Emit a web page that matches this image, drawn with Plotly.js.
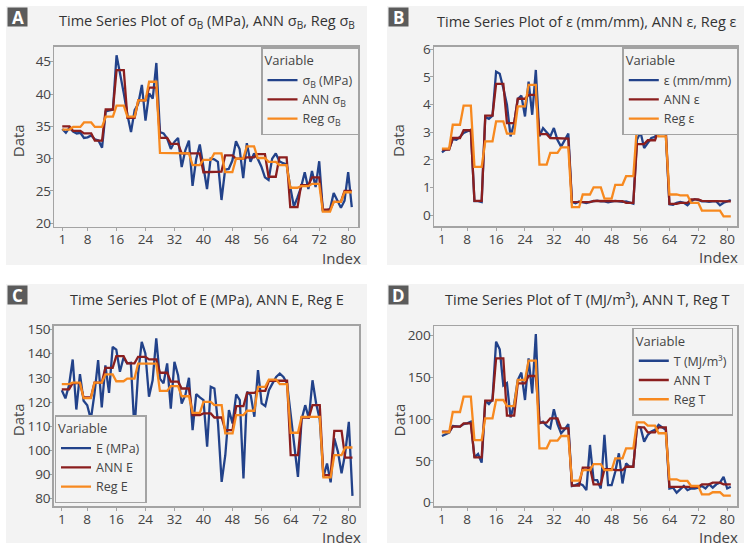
<!DOCTYPE html>
<html>
<head>
<meta charset="utf-8">
<script src="https://cdn.plot.ly/plotly-3.0.1.min.js"></script>
<style>html,body{margin:0;padding:0;background:#fff;}#chart{width:749px;height:552px;}</style>
</head>
<body>
<div id="chart"></div>
<script>
// ---------- DATA ----------
const indexTickVals = [1, 8, 16, 24, 32, 40, 48, 56, 64, 72, 80];

const sigmaB = [34.6,34.0,34.8,34.2,33.9,34.0,33.2,33.3,33.6,33.0,32.8,31.7,37.3,37.5,37.6,
  46.0,43.2,40.1,36.8,34.1,37.5,38.5,41.4,35.9,40.1,39.3,44.8,34.1,33.9,33.1,
  31.5,32.6,33.2,28.7,31.3,32.8,25.8,29.9,32.2,29.0,25.3,30.0,29.9,29.5,23.6,
  28.3,28.4,29.7,32.7,31.5,27.0,32.4,29.5,30.8,30.0,28.8,27.1,26.7,30.0,30.8,
  29.6,29.3,29.1,25.6,22.6,24.0,25.6,27.9,25.3,28.1,25.6,29.6,22.0,22.0,22.2,
  24.7,23.5,22.4,23.5,27.9,22.5];
const annSigmaB = [35.0,35.0,35.0,34.3,34.3,34.3,33.9,33.9,33.9,32.8,32.8,32.8,37.6,37.6,37.6,
  43.7,43.7,43.7,36.3,36.3,36.3,39.0,39.0,39.0,41.0,41.0,41.0,33.2,33.2,33.2,
  32.3,32.3,32.3,30.8,30.8,30.8,30.8,30.8,30.8,27.9,27.9,27.9,28.0,28.0,28.0,
  30.5,30.5,30.5,30.0,30.0,30.0,30.2,30.2,30.2,30.7,30.7,30.7,27.2,27.2,27.2,
  30.2,30.2,30.2,22.5,22.5,22.5,25.9,25.9,25.9,27.1,27.1,27.1,22.1,22.1,22.1,
  23.3,23.3,23.3,25.0,25.0,25.0];
const regSigmaB = [34.5,34.5,34.5,34.9,34.9,34.9,35.6,35.6,35.6,34.9,34.9,34.9,36.5,36.5,36.5,
  38.2,38.2,38.2,36.5,36.5,36.5,39.0,39.0,39.0,41.9,41.9,41.9,30.9,30.9,30.9,
  30.9,30.9,30.9,30.8,30.8,30.8,29.0,29.0,29.0,29.8,29.8,29.8,30.8,30.8,30.8,
  27.9,27.9,27.9,30.0,30.0,30.0,31.9,31.9,31.9,30.1,30.1,30.1,29.5,29.5,29.5,
  29.0,29.0,29.0,25.5,25.5,25.5,25.75,25.75,25.75,26.1,26.1,26.1,21.8,21.8,21.8,
  23.3,23.3,23.3,24.8,24.8,24.8];

const epsilon = [2.27,2.37,2.39,2.75,2.73,2.83,2.97,3.02,3.09,0.51,0.51,0.48,3.55,3.48,3.60,
  5.19,5.11,4.59,3.99,2.85,3.33,4.20,4.32,3.57,4.83,3.63,5.25,2.85,3.15,3.00,
  2.85,3.15,2.72,2.48,2.72,2.95,0.48,0.43,0.50,0.47,0.44,0.48,0.50,0.53,0.50,
  0.50,0.47,0.50,0.52,0.50,0.48,0.50,0.45,0.42,2.73,3.00,2.43,2.61,2.79,2.83,
  3.07,3.19,2.91,0.40,0.38,0.45,0.48,0.45,0.36,0.50,0.58,0.55,0.50,0.50,0.48,
  0.50,0.50,0.36,0.45,0.50,0.55];
const annEpsilon = [2.37,2.37,2.37,2.79,2.79,2.79,3.07,3.07,3.07,0.52,0.52,0.52,3.60,3.60,3.60,
  4.75,4.75,4.75,3.33,3.33,3.33,4.21,4.21,4.21,4.35,4.35,4.35,2.93,2.93,2.93,
  2.79,2.79,2.79,2.77,2.77,2.77,0.48,0.48,0.48,0.47,0.47,0.47,0.52,0.52,0.52,
  0.50,0.50,0.50,0.51,0.51,0.51,0.45,0.45,0.45,2.57,2.57,2.57,2.71,2.71,2.71,
  3.07,3.07,3.07,0.41,0.41,0.41,0.45,0.45,0.45,0.57,0.57,0.57,0.52,0.52,0.52,
  0.52,0.52,0.52,0.50,0.50,0.50];
const regEpsilon = [2.41,2.41,2.41,3.27,3.27,3.27,3.96,3.96,3.96,1.75,1.75,1.75,2.67,2.67,2.67,
  3.39,3.39,3.39,2.95,2.95,2.95,3.93,3.93,3.93,4.71,4.71,4.71,1.83,1.83,1.83,
  2.25,2.25,2.25,2.45,2.45,2.45,0.29,0.29,0.29,0.75,0.75,0.75,1.01,1.01,1.01,
  0.60,0.60,0.60,1.10,1.10,1.10,1.41,1.41,1.41,3.19,3.19,3.19,3.13,3.13,3.13,
  2.85,2.85,2.85,0.75,0.75,0.75,0.72,0.72,0.72,0.45,0.45,0.45,0.17,0.17,0.17,
  0.17,0.17,0.17,-0.04,-0.04,-0.04];

const modE = [124.9,121.5,127.0,137.6,116.9,131.5,120.5,118.7,112.8,123.5,137.3,117.8,135.2,123.8,142.8,
  141.7,132.5,138.4,136.0,136.2,108.4,131.8,144.9,140.1,122.2,129.0,146.3,129.7,127.7,136.0,
  117.3,136.6,131.1,119.4,122.8,130.0,108.4,123.3,121.9,120.8,101.5,126.3,125.6,111.1,87.0,
  98.0,116.7,111.1,123.2,120.8,88.4,124.2,122.8,113.9,133.2,119.4,118.3,124.9,127.7,130.4,
  131.8,130.4,127.7,113.9,101.5,89.0,112.8,118.7,113.2,129.0,119.4,112.8,89.0,94.6,86.8,
  105.0,99.4,90.5,98.8,111.8,81.2];
const annE = [125.2,125.2,125.2,127.8,127.8,127.8,121.9,121.9,121.9,128.0,128.0,128.0,134.1,134.1,134.1,
  139.0,139.0,139.0,136.0,136.0,136.0,138.7,138.7,138.7,137.6,137.6,137.6,132.1,132.1,132.1,
  128.4,128.4,128.4,125.6,125.6,125.6,114.6,114.6,114.6,115.3,115.3,115.3,113.6,113.6,113.6,
  108.4,108.4,108.4,118.3,118.3,118.3,123.8,123.8,123.8,124.6,124.6,124.6,128.8,128.8,128.8,
  128.8,128.8,128.8,98.0,98.0,98.0,113.6,113.6,113.6,118.7,118.7,118.7,89.8,89.8,89.8,
  108.1,108.1,108.1,97.0,97.0,97.0];
const regE = [127.4,127.4,127.4,128.0,128.0,128.0,121.6,121.6,121.6,128.0,128.0,128.0,131.4,131.4,131.4,
  128.6,128.6,128.6,129.7,129.7,129.7,135.9,135.9,135.9,135.9,135.9,135.9,124.6,124.6,124.6,
  126.6,126.6,126.6,122.4,122.4,122.4,115.5,115.5,115.5,120.1,120.1,120.1,118.7,118.7,118.7,
  107.0,107.0,107.0,114.6,114.6,114.6,116.4,116.4,116.4,126.3,126.3,126.3,129.3,129.3,129.3,
  127.4,127.4,127.4,107.3,107.3,107.3,113.9,113.9,113.9,113.9,113.9,113.9,88.8,88.8,88.8,
  98.0,98.0,98.0,101.2,101.2,101.2];

const toughT = [79.7,82.1,83.7,91.7,91.7,90.9,94.0,94.8,96.8,54.2,58.2,47.9,121.9,117.9,123.5,
  192.4,183.3,140.0,143.0,102.0,118.0,146.6,155.4,122.7,172.5,130.7,201.6,94.8,96.8,91.7,
  88.9,111.6,94.0,82.9,87.7,94.0,20.0,21.0,23.0,21.0,15.0,69.0,27.0,27.0,17.0,
  81.0,21.0,21.0,37.0,59.0,23.0,47.0,43.0,43.0,91.0,90.0,73.0,81.0,85.0,87.0,
  93.0,90.0,87.0,17.0,18.0,12.0,16.0,20.0,15.0,17.0,17.0,18.0,20.0,17.0,22.0,
  18.0,22.0,24.0,31.0,17.0,19.0];
const annT = [84.9,84.9,84.9,90.9,90.9,90.9,94.8,94.8,94.8,54.2,54.2,54.2,121.9,121.9,121.9,
  172.5,172.5,172.5,104.0,104.0,104.0,142.6,142.6,142.6,151.4,151.4,151.4,95.6,95.6,95.6,
  100.8,100.8,100.8,88.9,88.9,88.9,20.4,20.4,20.4,42.0,42.0,42.0,22.0,22.0,22.0,
  40.0,40.0,40.0,39.0,39.0,39.0,43.0,43.0,43.0,90.0,90.0,90.0,84.0,84.0,84.0,
  90.0,90.0,90.0,19.0,19.0,19.0,19.0,19.0,19.0,19.0,19.0,19.0,22.0,22.0,22.0,
  24.0,24.0,24.0,22.0,22.0,22.0];
const regT = [84.1,84.1,84.1,108.4,108.4,108.4,126.7,126.7,126.7,74.9,74.9,74.9,100.8,100.8,100.8,
  122.7,122.7,122.7,115.5,115.5,115.5,146.6,146.6,146.6,169.7,169.7,169.7,65.0,65.0,65.0,
  74.1,74.1,74.1,79.7,79.7,79.7,26.3,26.3,26.3,39.0,39.0,39.0,46.0,46.0,46.0,
  39.0,39.0,39.0,53.0,53.0,53.0,65.0,65.0,65.0,96.0,96.0,96.0,92.0,92.0,92.0,
  83.0,83.0,83.0,28.0,28.0,28.0,26.0,26.0,26.0,20.0,20.0,20.0,10.0,10.0,10.0,
  12.5,12.5,12.5,8.4,8.4,8.4];

const seriesNames = [
  ['σ<sub>B</sub> (MPa)', 'ANN σ<sub>B</sub>', 'Reg σ<sub>B</sub>'],
  ['ε (mm/mm)', 'ANN ε', 'Reg ε'],
  ['E (MPa)', 'ANN E', 'Reg E'],
  ['T (MJ/m³)', 'ANN T', 'Reg T']
];
const panelTitles = [
  'Time Series Plot of σ<sub>B</sub> (MPa), ANN σ<sub>B</sub>, Reg σ<sub>B</sub>',
  'Time Series Plot of ε (mm/mm), ANN ε, Reg ε',
  'Time Series Plot of E (MPa), ANN E, Reg E',
  'Time Series Plot of T (MJ/m³), ANN T, Reg T'
];
const panelLetters = ['A', 'B', 'C', 'D'];

// ---------- BUILD ----------
const W = 749, H = 552;
const px = x => x / W;
const py = y => 1 - y / H;
const FONT = '"Open Sans", "Noto Sans", sans-serif';
const colors = ['#22428a', '#8b1e1e', '#f7891f'];
const idx = sigmaB.map((_, i) => i + 1);

const panelData = [
  [sigmaB, annSigmaB, regSigmaB],
  [epsilon, annEpsilon, regEpsilon],
  [modE, annE, regE],
  [toughT, annT, regT]
];

// panel geometry (pixels)
const panels = [
  {bg: [6, 6, 367, 265], plot: [54.3, 46.7, 358.3, 226.7], yr: [19.47, 47.32], dy: 5, leg: {x: 261, y: 47, ya: 'top'}},
  {bg: [387, 6, 744, 265], plot: [434, 46.7, 737.3, 226.3], yr: [-0.40, 6.09], dy: 1, leg: {x: 622.3, y: 47, ya: 'top'}},
  {bg: [6, 284, 367, 543], plot: [53.8, 325.5, 359, 506], yr: [77.0, 151.65], dy: 10, leg: {x: 54.5, y: 503, ya: 'bottom'}},
  {bg: [387, 284, 744, 543], plot: [434, 326, 737.3, 506], yr: [-3.9, 211.1], dy: 50, leg: {x: 632.3, y: 327.7, ya: 'top'}}
];

const traces = [];
const layout = {
  width: W, height: H,
  margin: {l: 0, r: 0, t: 0, b: 0},
  paper_bgcolor: '#ffffff',
  plot_bgcolor: '#f3f3f3',
  font: {family: FONT, color: '#444', size: 14},
  shapes: [], annotations: []
};

panels.forEach((p, k) => {
  const n = k + 1;
  const xa = 'xaxis' + (n === 1 ? '' : n), ya = 'yaxis' + (n === 1 ? '' : n);
  const xr = 'x' + (n === 1 ? '' : n), yr = 'y' + (n === 1 ? '' : n);
  const lg = 'legend' + (n === 1 ? '' : n);
  const axCommon = {
    showline: true, mirror: true, linecolor: '#a3a3a3', linewidth: 1.5,
    ticks: 'outside', ticklen: 3, tickwidth: 1, tickcolor: '#a3a3a3',
    showgrid: false, zeroline: false,
    tickfont: {family: FONT, size: 13.5, color: '#444'}
  };
  layout[xa] = Object.assign({}, axCommon, {
    domain: [px(p.plot[0]), px(p.plot[2])], anchor: yr,
    range: [-1.2, 82.8], tickmode: 'array', tickvals: indexTickVals,
    ticklabelstandoff: -3
  });
  layout[ya] = Object.assign({}, axCommon, {
    domain: [py(p.plot[3]), py(p.plot[1])], anchor: xr,
    range: p.yr, dtick: p.dy, tick0: 0,
    ticklabelstandoff: -4
  });
  layout[lg] = {
    x: px(p.leg.x), y: py(p.leg.y), xanchor: 'left', yanchor: p.leg.ya,
    xref: 'paper', yref: 'paper',
    bgcolor: '#f3f3f3', bordercolor: '#a3a3a3', borderwidth: 1.5,
    font: {family: FONT, size: 12.5, color: '#444'},
    title: {text: 'Variable', font: {family: FONT, size: 13, color: '#444'}},
    tracegroupgap: 0
  };
  panelData[k].forEach((ys, s) => {
    traces.push({
      type: 'scatter', mode: 'lines', x: idx, y: ys,
      name: seriesNames[k][s], xaxis: xr, yaxis: yr, legend: lg,
      line: {color: colors[s], width: 2.3}
    });
  });
  // panel background
  layout.shapes.push({type: 'rect', xref: 'paper', yref: 'paper', layer: 'below',
    x0: px(p.bg[0]), x1: px(p.bg[2]), y0: py(p.bg[3]), y1: py(p.bg[1]),
    fillcolor: '#f3f3f3', line: {width: 0}});
  // letter box
  const lx = p.bg[0] + 1.5, ly = p.bg[1] + 1.5;
  layout.shapes.push({type: 'rect', xref: 'paper', yref: 'paper',
    x0: px(lx), x1: px(lx + 20), y0: py(ly + 19), y1: py(ly),
    fillcolor: '#5b5b5b', line: {width: 0}});
  layout.annotations.push({xref: 'paper', yref: 'paper', x: px(lx + 10), y: py(ly + 9.5),
    xanchor: 'center', yanchor: 'middle', showarrow: false,
    text: '<b>' + panelLetters[k] + '</b>', font: {family: FONT, size: 17, color: '#ffffff'}});
  // title
  const tcx = k % 2 === 0 ? 207 : 587;
  const tcy = p.bg[1] + 15;
  layout.annotations.push({xref: 'paper', yref: 'paper', x: px(tcx), y: py(tcy),
    xanchor: 'center', yanchor: 'middle', showarrow: false,
    text: panelTitles[k], font: {family: FONT, size: 14.5, color: '#333'}});
  // Index label
  layout.annotations.push({xref: 'paper', yref: 'paper', x: px(p.bg[2] - 4), y: py(p.plot[3] + 31),
    xanchor: 'right', yanchor: 'middle', showarrow: false,
    text: 'Index', font: {family: FONT, size: 15, color: '#444'}});
  // Data label
  layout.annotations.push({xref: 'paper', yref: 'paper', x: px(p.bg[0] + 11.5), y: py((p.plot[1] + p.plot[3]) / 2 + 4),
    xanchor: 'center', yanchor: 'middle', showarrow: false, textangle: -90,
    text: 'Data', font: {family: FONT, size: 15, color: '#444'}});
});

Plotly.newPlot('chart', traces, layout, {displayModeBar: false, staticPlot: true});
</script>
</body>
</html>
